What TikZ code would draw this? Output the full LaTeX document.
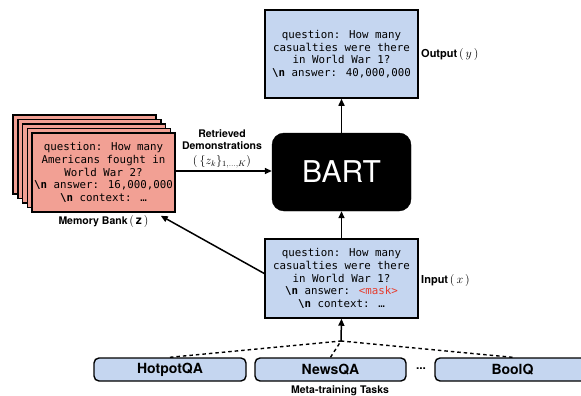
\documentclass[tikz,border=0pt]{standalone}
\usepackage{fontspec}
\setmainfont{TeX Gyre Heros}
\newfontfamily\codefont{DejaVu Sans Mono}
\usetikzlibrary{arrows.meta,calc}

\definecolor{qblue}{RGB}{197,214,240}
\definecolor{memred}{RGB}{242,160,148}
\definecolor{maskred}{RGB}{230,60,45}

\tikzset{
  codebox/.style={draw=black, line width=1.5pt, align=center,
    font=\codefont\fontsize{10.8}{12.6}\selectfont, inner sep=0pt},
  querybox/.style={codebox, fill=qblue, minimum width=153pt},
  membox/.style={codebox, fill=memred, minimum width=143pt, minimum height=79pt},
  taskbox/.style={draw=black, line width=1.4pt, fill=qblue, rounded corners=5pt,
    minimum height=23pt, font=\bfseries\fontsize{14}{16}\selectfont, inner sep=0pt},
  lbl/.style={font=\bfseries\fontsize{10.5}{12.5}\selectfont, align=center, inner sep=0pt},
  sidelbl/.style={font=\bfseries\fontsize{11}{13}\selectfont, inner sep=0pt},
  flow/.style={line width=1.5pt, -{Triangle[length=7pt,width=6pt]}},
  taskline/.style={line width=1.4pt, dash pattern=on 3.5pt off 3pt}
}
\newcommand{\nl}{\textbf{\textbackslash n}}
\newcommand{\bigmath}[1]{{\fontsize{12}{14}\selectfont\mdseries$#1$}}

\begin{document}
\begin{tikzpicture}[x=1pt,y=-1pt]
\useasboundingbox (0,0) rectangle (581,396);
\clip (0,0) rectangle (581,396);

% output sequence
\node[querybox, minimum height=88pt] (out) at (341.5,54)
  {question: How many\\casualties were there\\in World War 1?\\\nl{} answer: 40,000,000};
\node[sidelbl, anchor=west] (outlbl) at (421,55) {Output\,\bigmath{(\,y\,)}};

% the model
\node[draw=black, fill=black, rounded corners=12pt, minimum width=139pt,
  minimum height=78pt, text=white, font=\fontsize{30}{33}\selectfont, inner sep=0pt]
  (bart) at (341.5,172) {BART};

% input sequence
\node[querybox, minimum height=79pt] (in) at (341.5,278.5)
  {question: How many\\casualties were there\\in World War 1?\\\nl{} answer: \textcolor{maskred}{<mask>}\\\nl{} context: …};
\node[sidelbl, anchor=west] (inlbl) at (421,280) {Input\,\bigmath{(\,x\,)}};

% memory bank: stacked cards, front one carries the text
\foreach \i in {0,1,2,3} {
  \node[membox] (card\i) at ($(84.5,154.5)+(4.75*\i,4.5*\i)$) {};
}
\node[membox] (mem) at (103.5,172.5)
  {question: How many\\Americans fought in\\World War 2?\\\nl{} answer: 16,000,000\\\nl{} context: …};
\node[lbl] (memlbl) at (103.5,221) {Memory Bank\,\bigmath{(\,\mathbf{z}\,)}};

% retrieved demonstrations
\node[lbl] (retlbl) at (222,148.5)
  {Retrieved\\Demonstrations\\[2pt]\bigmath{(\,\{z_k\}_{1,\ldots,K})}};

% meta-training tasks
\node[taskbox, minimum width=152pt] (hotpot) at (170,369.5) {HotpotQA};
\node[taskbox, minimum width=151pt] (news) at (330.5,369.5) {NewsQA};
\node[taskbox, minimum width=155pt] (boolq) at (512.5,369.5) {BoolQ};
\node[font=\bfseries\fontsize{12}{14}\selectfont, inner sep=0pt] (dots) at (421,369) {...};
\node[lbl] (tasklbl) at (340,391) {Meta-training Tasks};

\coordinate (join) at (341,341);
\draw[taskline] (hotpot.north) -- (join);
\draw[taskline] (news.north) -- (join);
\draw[taskline] (boolq.north) -- (join);

% connectors
\draw[flow] (join) -- (in.south);
\draw[flow] (in.north) -- (bart.south);
\draw[flow] (bart.north) -- (out.south);
\draw[flow] (mem.east |- 0,171) -- (bart.west |- 0,171);
\draw[flow] ($(in.west)+(0,-5)$) -- ($(mem.south east)+(-15,3)$);
\end{tikzpicture}
\end{document}
